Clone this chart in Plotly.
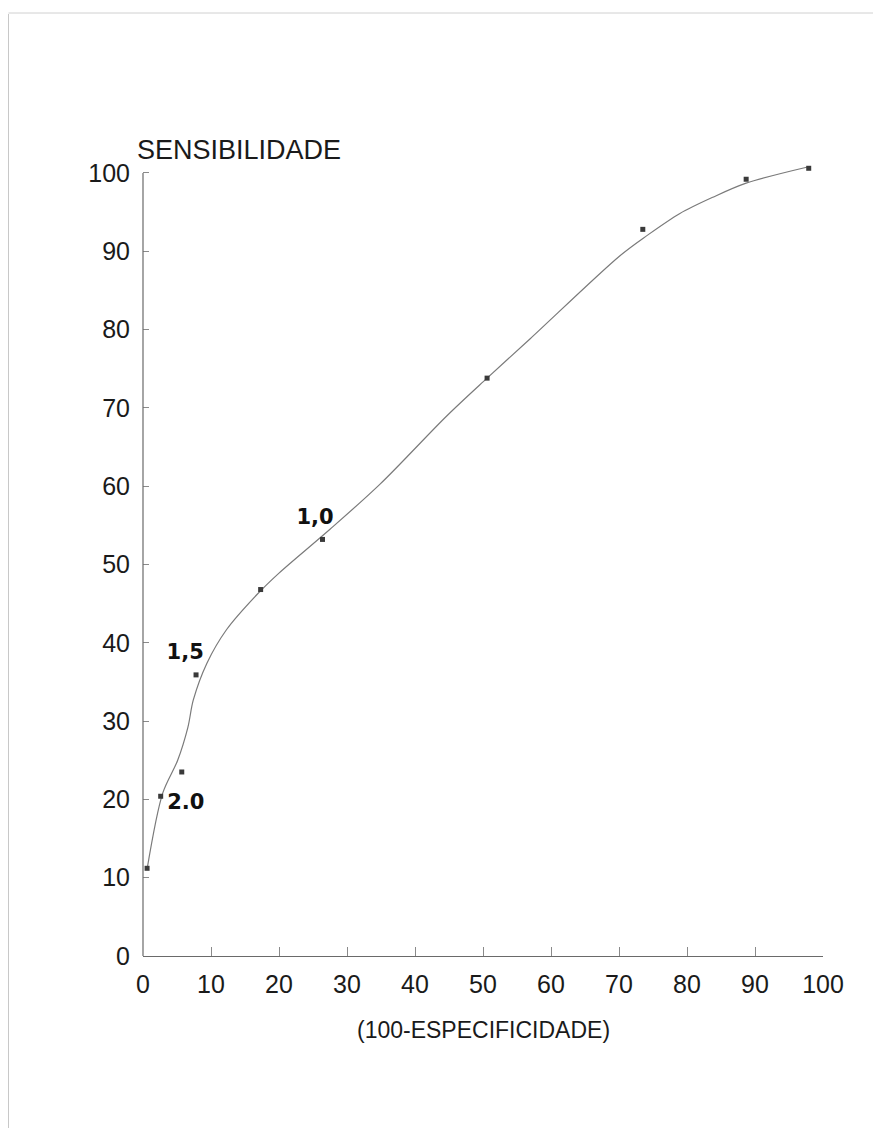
import plotly.graph_objects as go

# Observed points (100-especificidade, sensibilidade)
pt_x = [0.6, 2.6, 5.7, 7.8, 17.3, 26.4, 50.6, 73.5, 88.7, 97.9]
pt_y = [11.2, 20.4, 23.5, 35.9, 46.8, 53.2, 73.8, 92.8, 99.2, 100.6]

# Hand-drawn smooth curve
curve_x = [0.6, 2.9, 5.1, 6.6, 7.4, 9.4, 12.3, 16.8, 20.0, 27.5, 34.9, 44.7, 50.6, 56.9, 70.1, 74.1, 78.9, 83.8, 88.7, 97.9]
curve_y = [11.1, 20.8, 25.0, 29.2, 32.7, 37.4, 41.7, 46.2, 48.9, 54.5, 60.3, 69.0, 73.8, 78.8, 89.4, 92.0, 94.8, 96.9, 98.7, 100.8]

# Handwritten cut-off labels
lab_text = ["1,5", "2.0", "1,0"]
lab_x = [6.2, 6.3, 25.3]
lab_y = [38.6, 19.4, 55.8]

tick_vals = [0, 10, 20, 30, 40, 50, 60, 70, 80, 90, 100]

FONT = "Liberation Sans, Arial, sans-serif"

fig = go.Figure()
fig.add_trace(go.Scatter(x=curve_x, y=curve_y, mode="lines",
                         line=dict(color="#7a7a7a", width=1.2, shape="spline", smoothing=0.9),
                         hoverinfo="skip", showlegend=False))
fig.add_trace(go.Scatter(x=pt_x, y=pt_y, mode="markers",
                         marker=dict(symbol="square", size=5, color="#3a3a3a"),
                         showlegend=False, cliponaxis=False))
fig.add_trace(go.Scatter(x=lab_x, y=lab_y, mode="text", text=lab_text,
                         textfont=dict(family="DejaVu Sans, sans-serif", size=21, color="#111111", weight="bold"),
                         showlegend=False, cliponaxis=False))

axis_common = dict(showgrid=False, zeroline=False,
                   ticks="inside", tickcolor="#8a8a8a", tickwidth=1.2,
                   tickvals=tick_vals, ticktext=[str(v) for v in tick_vals],
                   tickfont=dict(family=FONT, size=25, color="#1a1a1a"))

fig.update_xaxes(range=[0, 100], ticklen=9, ticklabelstandoff=6,
                 showline=True, linecolor="#6a6a6a", linewidth=1.2, **axis_common)
fig.update_yaxes(range=[0, 102.04], ticklen=6, ticklabelstandoff=12,
                 showline=False, **axis_common)

fig.update_layout(
    width=873, height=1120,
    margin=dict(l=135, r=58, t=149, b=172),
    plot_bgcolor="white", paper_bgcolor="white",
    annotations=[
        dict(text="SENSIBILIDADE", xref="paper", yref="paper",
             x=-0.0118, y=1.0088, xanchor="left", yanchor="middle",
             showarrow=False, font=dict(family=FONT, size=27, color="#1a1a1a")),
        dict(text="(100-ESPECIFICIDADE)", xref="paper", yref="paper",
             x=0.5, y=-0.0926, xanchor="center", yanchor="middle",
             showarrow=False, font=dict(family=FONT, size=23, color="#1a1a1a")),
    ],
    shapes=[
        # y axis line, only from 0 to 100
        dict(type="line", xref="paper", yref="y", x0=0, x1=0, y0=0, y1=100,
             line=dict(color="#6a6a6a", width=1.2)),
        # faint page border from the scan
        dict(type="line", xref="paper", yref="paper",
             x0=-0.1978, x1=-0.1978, y0=1.179, y1=-0.2153,
             line=dict(color="#c8c8c8", width=1)),
        dict(type="line", xref="paper", yref="paper",
             x0=-0.1978, x1=1.0853, y0=1.1802, y1=1.1802,
             line=dict(color="#d0d0d0", width=1)),
    ],
)

fig.write_html("out.html")
